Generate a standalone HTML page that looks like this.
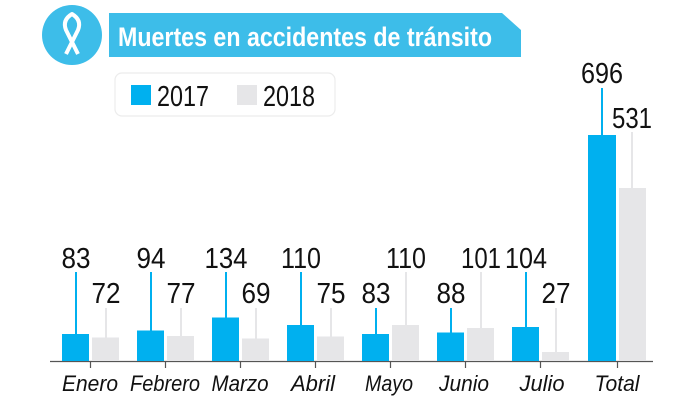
<!DOCTYPE html>
<html><head><meta charset="utf-8"><style>
html,body{margin:0;padding:0;background:#fff;}
svg{display:block}
.n{font-family:"Liberation Sans",sans-serif;font-size:29px;fill:#111;text-anchor:middle}
.m{font-family:"Liberation Sans",sans-serif;font-size:22px;font-style:italic;fill:#111;text-anchor:middle}
</style></head><body>
<svg width="700" height="400" viewBox="0 0 700 400">
<circle cx="72" cy="35" r="30" fill="#3dbde9"/>
<g fill="none" stroke="#fff" stroke-width="4" stroke-linejoin="round">
<path d="M66 54 L78 30 Q82 20 72 14 Q62 20 66 30 L78 54"/>
</g>
<polygon points="109,13 502,13 521,30 521,57 109,57" fill="#3dbde9"/>
<text x="118" y="46" font-family="'Liberation Sans',sans-serif" font-weight="bold" font-size="27" fill="#fff" textLength="374" lengthAdjust="spacingAndGlyphs">Muertes en accidentes de tránsito</text>
<rect x="115" y="73" width="220" height="43" rx="7" fill="#fff" stroke="#ececec" stroke-width="1.2"/>
<rect x="131" y="85" width="20" height="20" fill="#00b0ef"/>
<text x="157" y="106" font-family="'Liberation Sans',sans-serif" font-size="29" fill="#111" textLength="52" lengthAdjust="spacingAndGlyphs">2017</text>
<rect x="237" y="85" width="20" height="20" fill="#e6e6e8"/>
<text x="263" y="106" font-family="'Liberation Sans',sans-serif" font-size="29" fill="#111" textLength="52" lengthAdjust="spacingAndGlyphs">2018</text>
<line x1="50" y1="361.5" x2="653" y2="361.5" stroke="#555" stroke-width="1.2"/>
<g stroke="#555" stroke-width="1.2">
<line x1="90.5" y1="361" x2="90.5" y2="368"/><line x1="165.5" y1="361" x2="165.5" y2="368"/>
<line x1="240.5" y1="361" x2="240.5" y2="368"/><line x1="315.5" y1="361" x2="315.5" y2="368"/>
<line x1="390.5" y1="361" x2="390.5" y2="368"/><line x1="465.5" y1="361" x2="465.5" y2="368"/>
<line x1="540.5" y1="361" x2="540.5" y2="368"/><line x1="617.5" y1="361" x2="617.5" y2="368"/>
</g>
<g fill="#00b0ef">
<rect x="62" y="334" width="27" height="27"/>
<rect x="137" y="330.5" width="27" height="30.5"/>
<rect x="212" y="317.5" width="27" height="43.5"/>
<rect x="287" y="325" width="27" height="36"/>
<rect x="362" y="334" width="27" height="27"/>
<rect x="437" y="332.5" width="27" height="28.5"/>
<rect x="512" y="327" width="27" height="34"/>
<rect x="588" y="135" width="28" height="226"/>
</g>
<g fill="#e6e6e8">
<rect x="92" y="337.5" width="27" height="23.5"/>
<rect x="167" y="336" width="27" height="25"/>
<rect x="242" y="338.5" width="27" height="22.5"/>
<rect x="317" y="336.5" width="27" height="24.5"/>
<rect x="392" y="325" width="27" height="36"/>
<rect x="467" y="328" width="27" height="33"/>
<rect x="542" y="352" width="27" height="9"/>
<rect x="619" y="188" width="27" height="173"/>
</g>
<g stroke="#00b0ef" stroke-width="2">
<line x1="76" y1="272" x2="76" y2="334"/><line x1="151" y1="272" x2="151" y2="331"/>
<line x1="226" y1="272" x2="226" y2="318"/><line x1="301" y1="272" x2="301" y2="325"/>
<line x1="376" y1="308" x2="376" y2="334"/><line x1="451" y1="308" x2="451" y2="333"/>
<line x1="526" y1="272" x2="526" y2="327"/><line x1="602" y1="88" x2="602" y2="135"/>
</g>
<g stroke="#e6e6e8" stroke-width="2">
<line x1="106" y1="308" x2="106" y2="338"/><line x1="181" y1="308" x2="181" y2="336"/>
<line x1="256" y1="308" x2="256" y2="339"/><line x1="331" y1="308" x2="331" y2="337"/>
<line x1="406" y1="272" x2="406" y2="325"/><line x1="481" y1="272" x2="481" y2="328"/>
<line x1="556" y1="308" x2="556" y2="352"/><line x1="632" y1="132" x2="632" y2="188"/>
</g>
<g class="n" lengthAdjust="spacingAndGlyphs">
<text x="76" y="268" textLength="29" lengthAdjust="spacingAndGlyphs">83</text>
<text x="151" y="268" textLength="29" lengthAdjust="spacingAndGlyphs">94</text>
<text x="226" y="268" textLength="43" lengthAdjust="spacingAndGlyphs">134</text>
<text x="301" y="268" textLength="40" lengthAdjust="spacingAndGlyphs">110</text>
<text x="376" y="303" textLength="29" lengthAdjust="spacingAndGlyphs">83</text>
<text x="451" y="303" textLength="29" lengthAdjust="spacingAndGlyphs">88</text>
<text x="526" y="268" textLength="42" lengthAdjust="spacingAndGlyphs">104</text>
<text x="602" y="83" textLength="42" lengthAdjust="spacingAndGlyphs">696</text>
<text x="106" y="303" textLength="29" lengthAdjust="spacingAndGlyphs">72</text>
<text x="181" y="303" textLength="29" lengthAdjust="spacingAndGlyphs">77</text>
<text x="256" y="303" textLength="29" lengthAdjust="spacingAndGlyphs">69</text>
<text x="331" y="303" textLength="29" lengthAdjust="spacingAndGlyphs">75</text>
<text x="406" y="268" textLength="40" lengthAdjust="spacingAndGlyphs">110</text>
<text x="481" y="268" textLength="40" lengthAdjust="spacingAndGlyphs">101</text>
<text x="556" y="303" textLength="29" lengthAdjust="spacingAndGlyphs">27</text>
<text x="632" y="128" textLength="40" lengthAdjust="spacingAndGlyphs">531</text>
</g>
<g class="m">
<text x="90" y="391" textLength="56" lengthAdjust="spacingAndGlyphs">Enero</text>
<text x="165" y="391" textLength="70" lengthAdjust="spacingAndGlyphs">Febrero</text>
<text x="240" y="391" textLength="57" lengthAdjust="spacingAndGlyphs">Marzo</text>
<text x="313" y="391" textLength="44" lengthAdjust="spacingAndGlyphs">Abril</text>
<text x="389" y="391" textLength="48" lengthAdjust="spacingAndGlyphs">Mayo</text>
<text x="464" y="391" textLength="50" lengthAdjust="spacingAndGlyphs">Junio</text>
<text x="542" y="391" textLength="45" lengthAdjust="spacingAndGlyphs">Julio</text>
<text x="617" y="391" textLength="45" lengthAdjust="spacingAndGlyphs">Total</text>
</g>
</svg>
</body></html>
